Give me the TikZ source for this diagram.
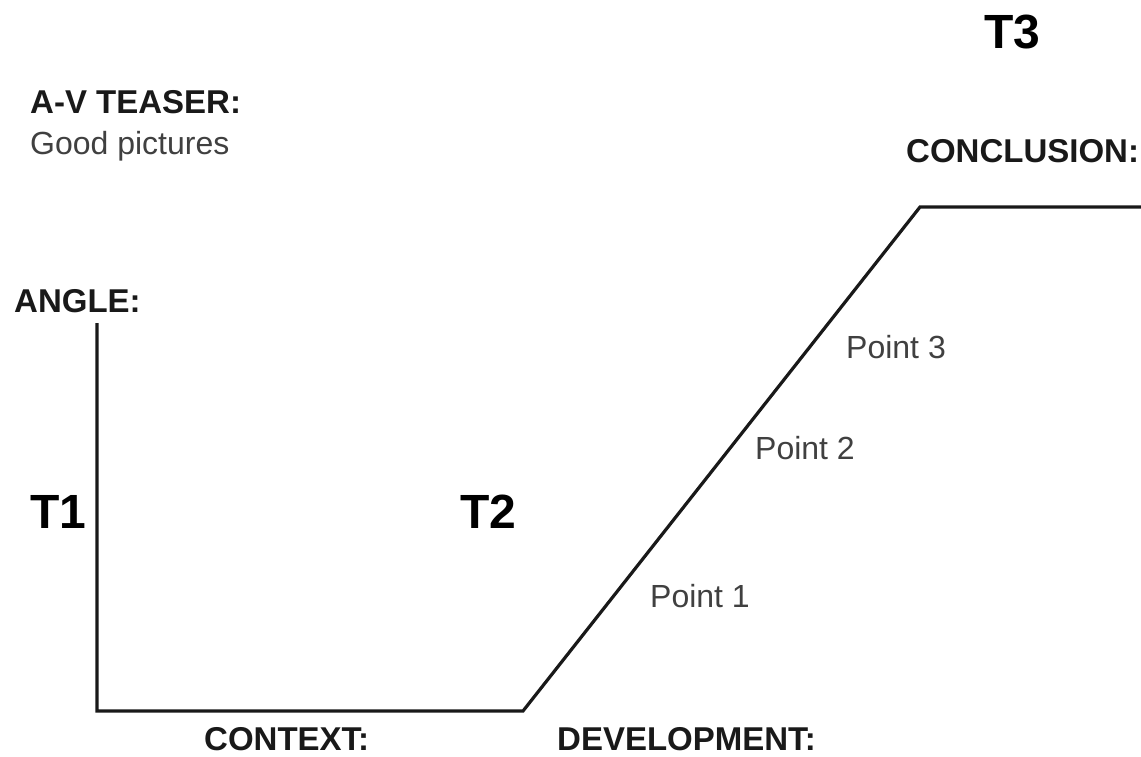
\documentclass[tikz,border=0pt]{standalone}
\usepackage{fontspec}
\setmainfont{Liberation Sans}
\begin{document}
\begin{tikzpicture}[x=1pt,y=-1pt,
  lbl/.style={anchor=base west,inner sep=0pt,font=\fontsize{33}{36}\selectfont\bfseries,text=black!90},
  big/.style={anchor=base west,inner sep=0pt,font=\fontsize{48}{52}\selectfont\bfseries,text=black},
  pt/.style={anchor=base west,inner sep=0pt,font=\fontsize{32}{36}\selectfont,text=black!75},
  curve/.style={line width=3.2pt,draw=black!90,line join=miter}]
\useasboundingbox (0,0) rectangle (1141,756);
% path corners
\coordinate (top) at (97,323);
\coordinate (bl) at (97,711);
\coordinate (br) at (523,711);
\coordinate (tr) at (920,207);
\coordinate (end) at (1141,207);
\draw[curve] (top) -- (bl) -- (br) -- (tr) -- (end);
% labels
\node[lbl] (teaser) at (30,113) {A-V TEASER:};
\node[pt] (good) at (30,154) {Good pictures};
\node[lbl] (angle) at (14,312) {ANGLE:};
\node[big] (t1) at (30,528) {T1};
\node[big] (t2) at (460,528) {T2};
\node[big] (t3) at (984,48) {T3};
\node[lbl] (concl) at (906,162) {CONCLUSION:};
\node[lbl] (context) at (204,750) {CONTEXT:};
\node[lbl] (devel) at (557,750) {DEVELOPMENT:};
\node[pt] (p1) at (650,607) {Point 1};
\node[pt] (p2) at (755,459) {Point 2};
\node[pt] (p3) at (846,358) {Point 3};
\end{tikzpicture}
\end{document}
